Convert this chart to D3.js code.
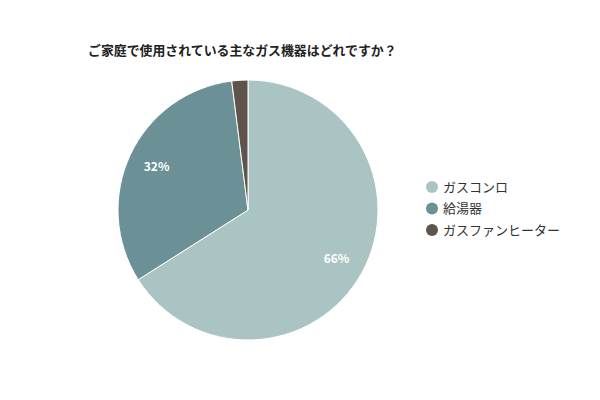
<!DOCTYPE html>
<html>
<head>
<meta charset="utf-8">
<script src="https://cdn.jsdelivr.net/npm/d3@7"></script>
<style>
  body { margin: 0; background: #fff; }
  text { font-family: "Noto Sans CJK JP", "Noto Sans", sans-serif; }
</style>
</head>
<body>
<div id="chart"></div>
<script>
var categories = ["ガスコンロ", "給湯器", "ガスファンヒーター"];
var values = [66, 32, 2];
var colors = ["#aac3c3", "#6b9095", "#5f544c"];
var title = "ご家庭で使用されている主なガス機器はどれですか？";

var width = 600, height = 400;
var cx = 248, cy = 210, radius = 130;

var svg = d3.select("#chart").append("svg")
            .attr("width", width)
            .attr("height", height);

svg.append("text")
   .attr("x", 88)
   .attr("y", 55)
   .text(title)
   .attr("fill", "#222")
   .attr("font-weight", "bold")
   .attr("font-size", "12.9px");

var data = categories.map(function (c, i) { return { name: c, value: values[i], color: colors[i] }; });

var pie = d3.pie().sort(null).value(function (d) { return d.value; });
var arc = d3.arc().innerRadius(0).outerRadius(radius);
var labelArc = d3.arc().innerRadius(101).outerRadius(101);

var g = svg.append("g").attr("transform", "translate(" + cx + "," + cy + ")");

var slices = g.selectAll("path")
              .data(pie(data))
              .enter();

slices.append("path")
      .attr("d", arc)
      .attr("fill", function (d) { return d.data.color; })
      .attr("stroke", "#fff")
      .attr("stroke-width", 1);

slices.filter(function (d) { return d.data.value >= 5; })
      .append("text")
      .attr("transform", function (d) { return "translate(" + labelArc.centroid(d) + ")"; })
      .attr("text-anchor", "middle")
      .attr("dy", "0.35em")
      .text(function (d) { return d.data.value + "%"; })
      .attr("fill", "#fff")
      .attr("font-weight", "bold")
      .attr("font-size", "12px");

var legend = svg.append("g").attr("transform", "translate(432,187)");

var item = legend.selectAll("g")
                 .data(data)
                 .enter().append("g")
                 .attr("transform", function (d, i) { return "translate(0," + (i * 21.5) + ")"; });

item.append("circle")
    .attr("r", 6)
    .attr("fill", function (d) { return d.color; });

item.append("text")
    .attr("x", 11)
    .attr("dy", "0.35em")
    .text(function (d) { return d.name; })
    .attr("fill", "#333")
    .attr("font-size", "13px");
</script>
</body>
</html>
